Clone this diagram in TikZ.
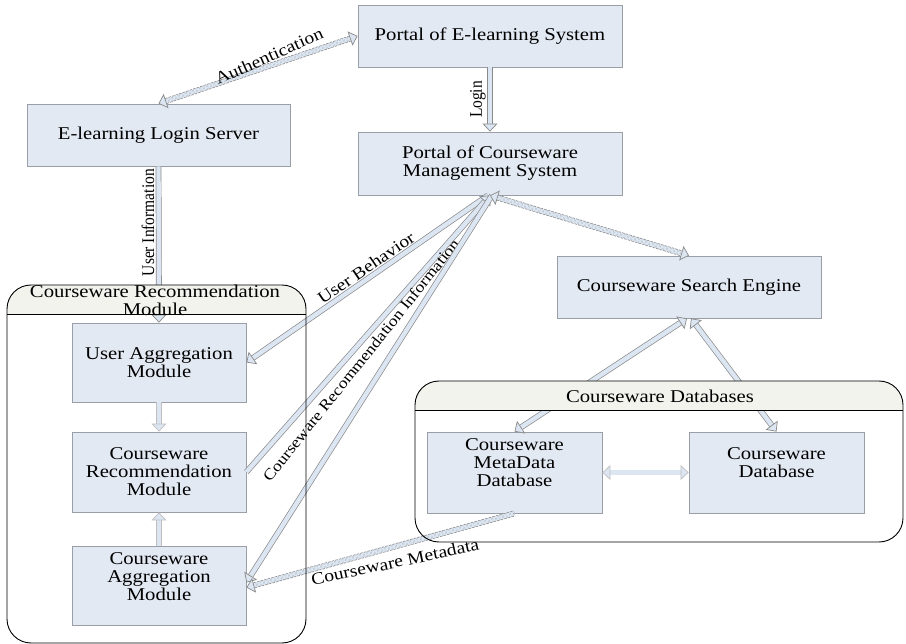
\documentclass[tikz,border=0pt]{standalone}
\usepackage{fontspec}
\setmainfont{Liberation Serif}[FakeStretch=1.15]
\newfontfamily\vlfont{Liberation Serif}[FakeStretch=0.87]
\usetikzlibrary{arrows.meta}
\definecolor{boxc}{HTML}{E3E9F3}
\definecolor{boxl}{HTML}{9A9EA6}
\definecolor{fillc}{HTML}{DCE6F2}
\definecolor{linec}{HTML}{8A8A8A}
\definecolor{headc}{HTML}{F3F3EE}
\begin{document}
\begin{tikzpicture}[x=1pt,y=-1pt, font=\fontsize{18}{18}\selectfont,
  box/.style={draw=boxl, fill=boxc, line width=0.8pt, inner sep=0pt, align=center},
  txt/.style={align=center, inner sep=0pt},
  conn/.style={draw=linec, line width=0.7pt, double=fillc, double distance=4.4pt},
  lconn/.style={conn, draw=linec!55},
  dconn/.style={conn, dash pattern=on 2.5pt off 1.2pt,
     preaction={draw=fillc, line width=5pt, solid, -, shorten >=4pt, shorten <=4pt}},
  >={Triangle[open, fill=fillc, length=8pt, width=15pt]},
  lbl/.style={inner sep=0pt, font=\fontsize{17}{17}\selectfont},
  vlbl/.style={rotate=90, anchor=south, inner sep=4pt, font=\vlfont\fontsize{17.8}{17.8}\selectfont},
  frame/.style={line width=0.9pt, rounded corners=24pt}
]
\useasboundingbox (0,0) rectangle (906,644);

% boxes
\node[box, minimum width=264pt, minimum height=62pt] (pe) at (490,36) {Portal of E-learning System};
\node[box, minimum width=263pt, minimum height=62pt] (ls) at (158.5,135) {E-learning Login Server};
\node[box, minimum width=264pt, minimum height=63pt] (pc) at (490,163.5) {Portal of Courseware\\Management System};
\node[box, minimum width=264pt, minimum height=62pt] (se) at (689,287) {Courseware Search Engine};
\node[box, minimum width=174pt, minimum height=79pt] (ua) at (159,362.5) {User Aggregation\\Module};
\node[box, minimum width=174pt, minimum height=80pt] (cr) at (159,472) {Courseware\\Recommendation\\Module};
\node[box, minimum width=174pt, minimum height=79pt] (ca) at (159,585.5) {};
\node[txt] (catxt) at (159,577) {Courseware\\Aggregation\\Module};
\node[box, minimum width=175pt, minimum height=81pt] (md) at (514.5,472.5) {};
\node[txt] (mdtxt) at (514.5,463) {Courseware\\MetaData\\Database};
\node[box, minimum width=175pt, minimum height=81pt] (cd) at (776.5,472.5) {};
\node[txt] (cdtxt) at (776.5,463) {Courseware\\Database};

% connectors
\draw[dconn, <->] (ls.north) -- (pe.west);
\node[lbl, rotate=24] (authl) at (269,56) {Authentication};
\draw[conn, ->] (pe.south) -- node[vlbl] {Login} (pc.north);
\draw[conn, ->] (ls.south) -- node[vlbl, pos=0.36] {User Information} (ua.north);
\draw[conn, <-] (ua.east) -- ([xshift=-2pt]pc.south);
\node[lbl, rotate=34.5] (ubl) at (366,268) {User Behavior};
\draw[conn, ->] (cr.east) -- (pc.south);
\node[lbl, rotate=51.4, font=\fontsize{15.5}{15.5}\selectfont] (cril) at (361,360) {Courseware Recommendation Information};
\draw[conn, <-] ([yshift=3pt]ca.east) -- ([xshift=2pt]pc.south);
\draw[dconn, <->] (pc.south) -- (se.north);
\draw[conn, <->] (md.north) -- ([xshift=-2pt]se.south);
\draw[conn, <->] ([xshift=2pt]se.south) -- (cd.north);
\draw[lconn, <->] (md.east) -- (cd.west);
\draw[dconn, <-] ([yshift=-2pt]ca.east) -- (md.south);
\node[lbl, rotate=12] (cml) at (395,562) {Courseware Metadata};
\draw[lconn, ->] (ua.south) -- (cr.north);
\draw[lconn, ->] (ca.north) -- (cr.south);

% container: Courseware Recommendation Module
\begin{scope}
  \clip (7,285) rectangle (306,314);
  \fill[headc, rounded corners=24pt] (7,285) rectangle (306,643);
\end{scope}
\draw[line width=0.9pt] (7,314) -- (306,314);
\draw[frame] (7,285) rectangle (306,643);
\node[txt] (crmtitle) at (155,300) {Courseware Recommendation\\Module};

% container: Courseware Databases
\begin{scope}
  \clip (415,381) rectangle (903,410);
  \fill[headc, rounded corners=24pt] (415,381) rectangle (903,542);
\end{scope}
\draw[line width=0.9pt] (415,410) -- (903,410);
\draw[frame] (415,381) rectangle (903,542);
\node[txt] (dbtitle) at (660,396) {Courseware Databases};
\end{tikzpicture}
\end{document}
